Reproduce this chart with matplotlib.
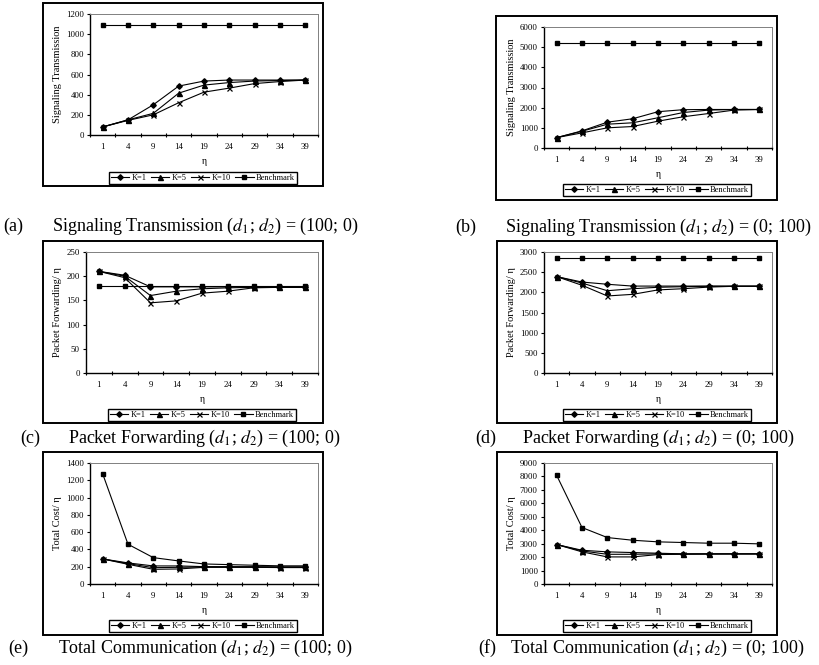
import numpy as np
import matplotlib
matplotlib.use("Agg")
import matplotlib.pyplot as plt
from matplotlib.patches import Rectangle

# -----------------------------
# data
# -----------------------------
eta = ["1", "4", "9", "14", "19", "24", "29", "34", "39"]

sig_a_k1 = [80, 150, 300, 485, 535, 545, 545, 545, 545]
sig_a_k5 = [80, 150, 215, 415, 495, 520, 535, 540, 545]
sig_a_k10 = [80, 145, 200, 320, 425, 465, 510, 530, 545]
sig_a_bench = [1095, 1095, 1095, 1095, 1095, 1095, 1095, 1095, 1095]

sig_b_k1 = [515, 850, 1280, 1450, 1800, 1900, 1910, 1910, 1910]
sig_b_k5 = [515, 830, 1180, 1250, 1500, 1760, 1880, 1910, 1910]
sig_b_k10 = [515, 750, 1000, 1065, 1330, 1550, 1710, 1880, 1910]
sig_b_bench = [5230, 5230, 5230, 5230, 5230, 5230, 5230, 5230, 5230]

pkt_c_k1 = [210, 202, 178, 178, 178, 178, 178, 178, 178]
pkt_c_k5 = [210, 200, 160, 169, 174, 176, 177, 177, 177]
pkt_c_k10 = [210, 197, 145, 149, 165, 169, 176, 177, 177]
pkt_c_bench = [180, 180, 180, 180, 180, 180, 180, 180, 180]

pkt_d_k1 = [2390, 2255, 2200, 2155, 2155, 2155, 2155, 2155, 2155]
pkt_d_k5 = [2390, 2230, 2040, 2090, 2125, 2140, 2150, 2150, 2150]
pkt_d_k10 = [2390, 2175, 1910, 1950, 2060, 2090, 2130, 2150, 2150]
pkt_d_bench = [2850, 2850, 2850, 2850, 2850, 2850, 2850, 2850, 2850]

tot_e_k1 = [290, 244, 209, 209, 201, 200, 200, 198, 198]
tot_e_k5 = [290, 236, 189, 193, 197, 197, 196, 195, 195]
tot_e_k10 = [290, 228, 170, 174, 193, 193, 193, 190, 190]
tot_e_bench = [1275, 460, 305, 267, 232, 224, 217, 210, 210]

tot_f_k1 = [2935, 2510, 2390, 2340, 2290, 2240, 2240, 2240, 2240]
tot_f_k5 = [2935, 2460, 2210, 2210, 2240, 2240, 2240, 2240, 2240]
tot_f_k10 = [2935, 2390, 2015, 2015, 2190, 2210, 2230, 2240, 2240]
tot_f_bench = [8080, 4200, 3455, 3255, 3135, 3085, 3035, 3035, 2985]

series_names = ["K=1", "K=5", "K=10", "Benchmark"]

plt.rcParams['font.family'] = ['Liberation Serif', 'DejaVu Serif']
plt.rcParams['mathtext.fontset'] = 'stix'

W, H = 820, 665
fig = plt.figure(figsize=(W / 100, H / 100), dpi=100)


def px_rect(x0, y0, x1, y1):
    return [x0 / W, 1 - y1 / H, (x1 - x0) / W, (y1 - y0) / H]


styles = [
    dict(marker="D", markersize=2.8),
    dict(marker="^", markersize=3.6),
    dict(marker="x", markersize=3.6, markeredgewidth=0.9),
    dict(marker="s", markersize=3.2),
]

D12 = r"($d_{\mathit{1}}$; $d_{\mathit{2}}$)"

# frame, plot area, legend centre, caption y, tag x, caption x
panels = [
    dict(frame=(43, 3, 323, 186), plot=(90, 14, 318, 135), leg=(203, 178),
         data=[sig_a_k1, sig_a_k5, sig_a_k10, sig_a_bench], ymax=1200, ystep=200,
         ylabel="Signaling Transmission", cap_y=226, lab_x=3, txt_x=52,
         tag="(a)", cap="Signaling Transmission " + D12 + " = (100; 0)"),
    dict(frame=(496, 16, 777, 200), plot=(544, 27, 772, 148), leg=(657, 190),
         data=[sig_b_k1, sig_b_k5, sig_b_k10, sig_b_bench], ymax=6000, ystep=1000,
         ylabel="Signaling Transmission", cap_y=227, lab_x=455, txt_x=505,
         tag="(b)", cap="Signaling Transmission " + D12 + " = (0; 100)"),
    dict(frame=(43, 241, 323, 423), plot=(86, 252, 318, 373), leg=(202, 415),
         data=[pkt_c_k1, pkt_c_k5, pkt_c_k10, pkt_c_bench], ymax=250, ystep=50,
         ylabel="Packet Forwarding/ η", cap_y=438, lab_x=20, txt_x=68,
         tag="(c)", cap="Packet Forwarding " + D12 + " = (100; 0)"),
    dict(frame=(497, 241, 777, 423), plot=(544, 252, 772, 373), leg=(657, 415),
         data=[pkt_d_k1, pkt_d_k5, pkt_d_k10, pkt_d_bench], ymax=3000, ystep=500,
         ylabel="Packet Forwarding/ η", cap_y=438, lab_x=475, txt_x=522,
         tag="(d)", cap="Packet Forwarding " + D12 + " = (0; 100)"),
    dict(frame=(43, 452, 323, 635), plot=(90, 463, 318, 584), leg=(203, 626),
         data=[tot_e_k1, tot_e_k5, tot_e_k10, tot_e_bench], ymax=1400, ystep=200,
         ylabel="Total Cost/ η", cap_y=648, lab_x=8, txt_x=58,
         tag="(e)", cap="Total Communication " + D12 + " = (100; 0)"),
    dict(frame=(497, 452, 777, 635), plot=(544, 463, 772, 584), leg=(657, 626),
         data=[tot_f_k1, tot_f_k5, tot_f_k10, tot_f_bench], ymax=9000, ystep=1000,
         ylabel="Total Cost/ η", cap_y=648, lab_x=478, txt_x=510,
         tag="(f)", cap="Total Communication " + D12 + " = (0; 100)"),
]

x = np.arange(len(eta))

for p in panels:
    fx0, fy0, fx1, fy1 = p["frame"]
    fig.add_artist(Rectangle((fx0 / W, 1 - fy1 / H), (fx1 - fx0) / W, (fy1 - fy0) / H,
                             transform=fig.transFigure, fill=False,
                             edgecolor="black", linewidth=1.4))

    ax = fig.add_axes(px_rect(*p["plot"]))
    handles = []
    for vals, name, st in zip(p["data"], series_names, styles):
        h, = ax.plot(x, vals, color="black", linewidth=0.8,
                     markerfacecolor="black", markeredgecolor="black",
                     label=name, **st)
        handles.append(h)

    ax.set_xlim(-0.5, len(eta) - 0.5)
    ax.set_ylim(0, p["ymax"])
    ax.set_yticks(np.arange(0, p["ymax"] + 1, p["ystep"]))
    ax.set_xticks(x)
    ax.set_xticklabels(eta)
    # category boundaries get the tick marks, like the original
    ax.set_xticks(np.arange(-0.5, len(eta), 1.0), minor=True)
    ax.tick_params(axis="x", which="major", length=0, pad=6, labelsize=6.3)
    ax.tick_params(axis="x", which="minor", length=3, direction="inout", width=0.8)
    ax.tick_params(axis="y", length=2.5, width=0.8, labelsize=6.3, pad=2)
    for s in ["left", "bottom"]:
        ax.spines[s].set_linewidth(1.0)
    for s in ["top", "right"]:
        ax.spines[s].set_color("#808080")
        ax.spines[s].set_linewidth(0.7)

    ax.set_xlabel("η", fontsize=7, labelpad=4)
    ax.set_ylabel(p["ylabel"], fontsize=7.5, labelpad=3)

    lx, ly = p["leg"]
    fig.legend(handles=handles, loc="center", bbox_to_anchor=(lx / W, 1 - ly / H),
               ncol=4, fontsize=6, frameon=True, fancybox=False,
               edgecolor="black", framealpha=1, handlelength=2.2,
               handletextpad=0.3, columnspacing=0.5, borderpad=0.2,
               borderaxespad=0)

    fig.text(p["lab_x"] / W, 1 - p["cap_y"] / H, p["tag"], fontsize=13,
             va="center", ha="left")
    fig.text(p["txt_x"] / W, 1 - p["cap_y"] / H, p["cap"], fontsize=13,
             va="center", ha="left")

fig.savefig("out.png", dpi=100)
plt.close(fig)
